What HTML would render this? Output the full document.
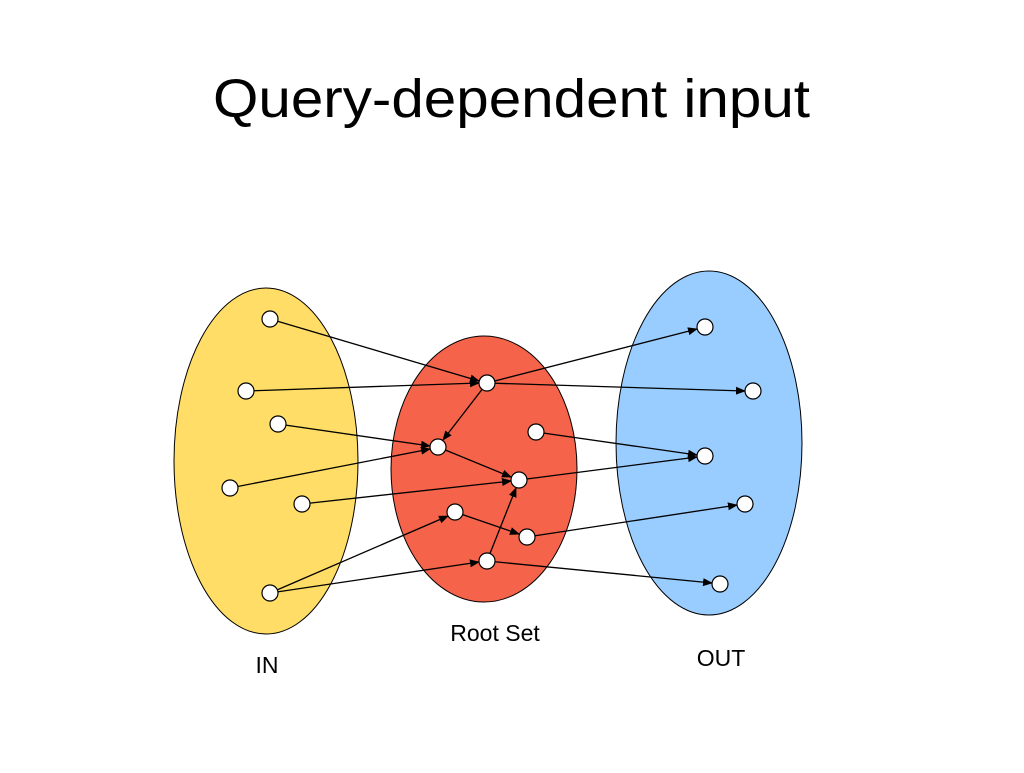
<!DOCTYPE html>
<html><head><meta charset="utf-8"><style>
body{margin:0;background:#fff;width:1024px;height:768px;overflow:hidden}
</style></head><body>
<svg width="1024" height="768" xmlns="http://www.w3.org/2000/svg" font-family="Liberation Sans, sans-serif">
<defs><marker id="a" markerWidth="10" markerHeight="8" refX="9" refY="4" orient="auto" markerUnits="userSpaceOnUse"><path d="M0,0 L10,4 L0,8 z" fill="#000"/></marker></defs>
<text x="213" y="117" font-size="54" textLength="597" lengthAdjust="spacingAndGlyphs" fill="#000">Query-dependent input</text>
<ellipse cx="266" cy="461" rx="92" ry="173" fill="#FFDD66" stroke="#000" stroke-width="1"/>
<ellipse cx="484" cy="469" rx="93" ry="133" fill="#F4634A" stroke="#000" stroke-width="1"/>
<ellipse cx="709" cy="443" rx="93" ry="172" fill="#99CCFF" stroke="#000" stroke-width="1"/>
<g stroke="#000" stroke-width="1.3" marker-end="url(#a)">
<line x1="270" y1="319" x2="479" y2="381"/>
<line x1="246" y1="391" x2="479" y2="383"/>
<line x1="278" y1="424" x2="430" y2="446"/>
<line x1="230" y1="488" x2="430" y2="449"/>
<line x1="302" y1="504" x2="511" y2="481"/>
<line x1="270" y1="593" x2="448" y2="516"/>
<line x1="270" y1="593" x2="479" y2="562"/>
<line x1="487" y1="383" x2="443" y2="440"/>
<line x1="487" y1="383" x2="697" y2="329"/>
<line x1="487" y1="383" x2="745" y2="391"/>
<line x1="438" y1="447" x2="511" y2="477"/>
<line x1="536" y1="432" x2="697" y2="455"/>
<line x1="519" y1="480" x2="697" y2="457"/>
<line x1="455" y1="512" x2="519" y2="534"/>
<line x1="487" y1="561" x2="516" y2="488"/>
<line x1="527" y1="537" x2="737" y2="505"/>
<line x1="487" y1="561" x2="712" y2="583"/>
</g>
<g fill="#fff" stroke="#000" stroke-width="1.2">
<circle cx="270" cy="319" r="8"/><circle cx="246" cy="391" r="8"/><circle cx="278" cy="424" r="8"/>
<circle cx="230" cy="488" r="8"/><circle cx="302" cy="504" r="8"/><circle cx="270" cy="593" r="8"/>
<circle cx="487" cy="383" r="8"/><circle cx="438" cy="447" r="8"/><circle cx="536" cy="432" r="8"/>
<circle cx="519" cy="480" r="8"/><circle cx="455" cy="512" r="8"/><circle cx="527" cy="537" r="8"/>
<circle cx="487" cy="561" r="8"/>
<circle cx="705" cy="327" r="8"/><circle cx="753" cy="391" r="8"/><circle cx="705" cy="456" r="8"/>
<circle cx="745" cy="504" r="8"/><circle cx="720" cy="584" r="8"/>
</g>
<text x="267" y="673" font-size="23" text-anchor="middle">IN</text>
<text x="495" y="641" font-size="23" text-anchor="middle">Root Set</text>
<text x="721" y="666" font-size="23" text-anchor="middle">OUT</text>
</svg>
</body></html>
